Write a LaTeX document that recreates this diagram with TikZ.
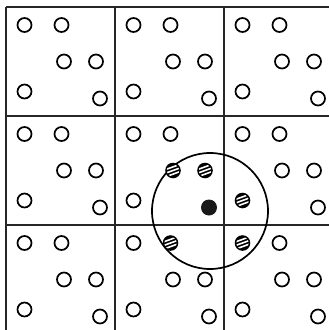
\documentclass[tikz,border=0pt]{standalone}
\begin{document}
\begin{tikzpicture}[x=1pt,y=-1pt,
  gridline/.style={line width=2pt,black!85},
  hollow/.style={draw=black,line width=1.7pt,fill=white},
  bigring/.style={draw=black,line width=1.7pt}]
\useasboundingbox (0,0) rectangle (329,330);
\clip (0,0) rectangle (329,330);
% grid
\foreach \x in {6,115,224} \draw[gridline] (\x,7) -- (\x,335);
\foreach \y in {7,116,225} \draw[gridline] (6,\y) -- (335,\y);
% big cutoff circle
\coordinate (c) at (210,211);
\draw[bigring] (c) circle[radius=58];
% particles
\foreach \i in {0,1,2}{
 \foreach \j in {0,1,2}{
  \foreach \px/\py in {18.5/18,55.5/18,58/54.5,90/54.5,18.5/84.5,94/91.5}{
   \pgfmathsetmacro\X{6+109*\i+\px}
   \pgfmathsetmacro\Y{7+109*\j+\py}
   \pgfmathsetmacro\D{veclen(\X-210,\Y-208)}
   \ifdim\D pt<3pt
     \fill[black!90] (\X,\Y) circle[radius=8];
   \else\ifdim\D pt<60pt
     \begin{scope}
       \fill[black] (\X,\Y) circle[radius=7.8];
       \clip (\X,\Y) circle[radius=6.2];
       \foreach \o in {-3.4,0,3.4}
         \draw[white,line width=1.6pt,rotate around={20:(\X,\Y)}] (\X-9,\Y+\o) -- (\X+9,\Y+\o);
     \end{scope}
   \else
     \draw[hollow] (\X,\Y) circle[radius=7];
   \fi\fi
  }
 }
}
\end{tikzpicture}
\end{document}
